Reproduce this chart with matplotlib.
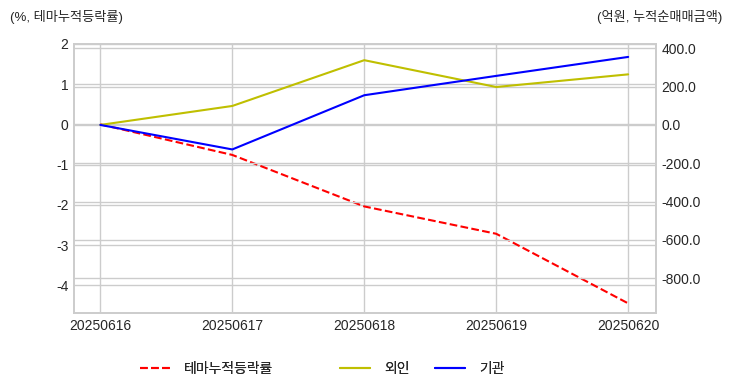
import matplotlib
matplotlib.use("Agg")
import matplotlib.pyplot as plt
from matplotlib.ticker import FormatStrFormatter

dates = ["20250616", "20250617", "20250618", "20250619", "20250620"]
theme_rate = [0.0, -0.76, -2.04, -2.72, -4.45]
foreign = [0.0, 99.0, 338.0, 198.0, 264.0]
institution = [0.0, -128.0, 155.0, 256.0, 355.0]

left_ticks = [2, 1, 0, -1, -2, -3, -4]
right_ticks = [400, 200, 0, -200, -400, -600, -800]

plt.style.use("seaborn-v0_8-whitegrid")
plt.rcParams['font.family'] = ['Liberation Sans', 'Noto Sans CJK KR', 'DejaVu Sans']
plt.rcParams['axes.unicode_minus'] = False

fig = plt.figure(figsize=(7.32, 3.92), dpi=100)
ax = fig.add_axes([0.101, 0.2015, 0.795, 0.6865])
ax2 = ax.twinx()

x = list(range(len(dates)))
l1, = ax.plot(x, theme_rate, 'r--', lw=1.5, label="테마누적등락률")
l2, = ax2.plot(x, foreign, 'y', lw=1.5, label="외인")
l3, = ax2.plot(x, institution, 'b', lw=1.5, label="기관")

ax.set_xlim(-0.2, 4.21)
ax.set_xticks(x)
ax.set_xticklabels(dates)
ax.set_ylim(-4.69, 2.0)
ax.set_yticks(left_ticks)
ax2.set_ylim(-982, 423)
ax2.set_yticks(right_ticks)
ax2.yaxis.set_major_formatter(FormatStrFormatter('%.1f'))

for a in (ax, ax2):
    a.tick_params(labelsize=10, colors='#262626', length=0, pad=4)
    a.grid(True, color='#cccccc', lw=1)
    for s in a.spines.values():
        s.set_color('#cccccc')
        s.set_linewidth(1.2)
ax2.grid(True, axis='y', color='#cccccc', lw=1)

fig.text(10/732, 1-17/392, "(%, 테마누적등락률)", fontsize=9.5, color='#262626', va='center', ha='left')
fig.text(722/732, 1-17/392, "(억원, 누적순매매금액)", fontsize=9.5, color='#262626', va='center', ha='right')

ypos = 1 - 369/392
for handle, xp in ((l1, 137), (l2, 337), (l3, 432)):
    leg = fig.legend(handles=[handle], loc='center left', bbox_to_anchor=(xp/732, ypos),
                     frameon=False, fontsize=10, handlelength=2.2, handletextpad=1.0,
                     borderaxespad=0, borderpad=0.2)
    for t in leg.get_texts():
        t.set_color('#262626')
    fig.add_artist(leg)

fig.savefig("out.png", dpi=100)
